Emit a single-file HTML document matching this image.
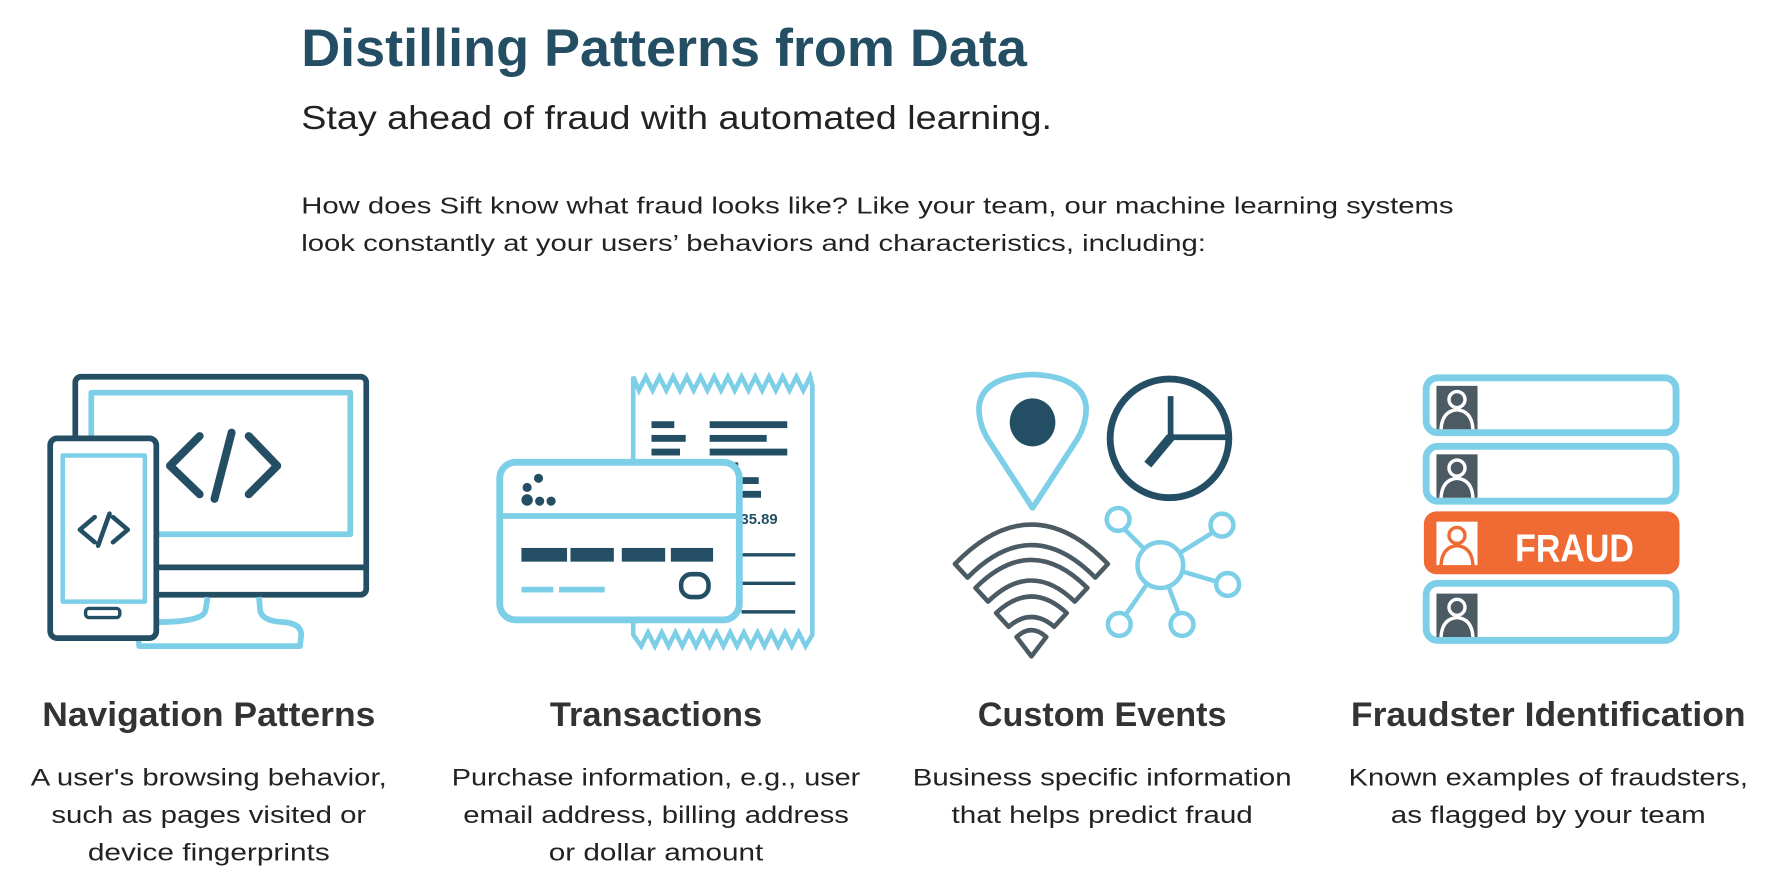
<!DOCTYPE html>
<html><head><meta charset="utf-8"><style>
html,body{margin:0;padding:0;background:#fff;width:1789px;height:879px;overflow:hidden}
svg{display:block}
text{font-family:"Liberation Sans",sans-serif}
</style></head><body>
<svg width="1789" height="879" viewBox="0 0 1568 770" preserveAspectRatio="none" xmlns="http://www.w3.org/2000/svg">
<text x="264" y="58" font-size="46" font-weight="bold" fill="#234e63" textLength="636" lengthAdjust="spacingAndGlyphs">Distilling Patterns from Data</text>
<text x="264" y="113" font-size="29" fill="#222" textLength="658" lengthAdjust="spacingAndGlyphs">Stay ahead of fraud with automated learning.</text>
<text x="264" y="187" font-size="20" fill="#222" textLength="1010" lengthAdjust="spacingAndGlyphs">How does Sift know what fraud looks like? Like your team, our machine learning systems</text>
<text x="264" y="220" font-size="20" fill="#222" textLength="793" lengthAdjust="spacingAndGlyphs">look constantly at your users’ behaviors and characteristics, including:</text>

<!-- Monitor -->
<g fill="none" stroke-linejoin="round">
<rect x="66" y="330" width="255" height="191" rx="5" stroke="#234e63" stroke-width="5"/>
<rect x="80" y="344" width="227" height="124" stroke="#7dcfe8" stroke-width="5"/>
<line x1="137" y1="497" x2="321" y2="497" stroke="#234e63" stroke-width="5"/>
<path d="M182 523 L180 535 Q178 545 135 545 Q121 546 121 556 L122 566 L263 566 L264 556 Q264 546 248 545 Q230 544 228 535 L227 523" stroke="#7dcfe8" stroke-width="5"/>
<rect x="44" y="384" width="93" height="175" rx="6" fill="#fff" stroke="#234e63" stroke-width="5"/>
<rect x="55" y="399" width="72" height="128" stroke="#7dcfe8" stroke-width="4"/>
<rect x="75" y="533" width="30" height="8" rx="3" stroke="#234e63" stroke-width="3"/>
<path d="M175 382 L149 408 L175 433 M218 382 L243 408 L218 433 M203 379 L188 437" stroke="#234e63" stroke-width="7" stroke-linecap="round"/>
<path d="M83 453 L70 464 L83 475 M99 453 L112 464 L99 475 M96 450 L86 478" stroke="#234e63" stroke-width="4" stroke-linecap="round"/>
</g>

<!-- Receipt -->
<g fill="none">
<path d="M555 330 L560 342 L566 330 L572 342 L578 330 L584 342 L590 330 L596 342 L602 330 L608 342 L614 330 L620 342 L626 330 L632 342 L638 330 L644 342 L650 330 L656 342 L662 330 L668 342 L674 330 L680 342 L686 330 L692 342 L698 330 L704 342 L710 330 L712 338 L712 556 L706 566 L700 554 L694 566 L688 554 L682 566 L676 554 L670 566 L664 554 L658 566 L652 554 L646 566 L640 554 L634 566 L628 554 L622 566 L616 554 L610 566 L604 554 L598 566 L592 554 L586 566 L580 554 L574 566 L568 554 L562 566 L555 556 Z" stroke="#7dcfe8" stroke-width="4"/>
<g fill="#234e63">
<rect x="571" y="369" width="20" height="6"/><rect x="571" y="381" width="30" height="6"/><rect x="571" y="393" width="25" height="6"/><rect x="571" y="405" width="20" height="6"/>
<rect x="622" y="369" width="68" height="6"/><rect x="622" y="381" width="50" height="6"/><rect x="622" y="393" width="68" height="6"/><rect x="622" y="405" width="25" height="6"/>
<rect x="645" y="418" width="20" height="6"/><rect x="645" y="430" width="22" height="6"/>
</g>
<text x="649" y="459" font-size="13" font-weight="bold" fill="#234e63">35.89</text>
<line x1="650" y1="486" x2="697" y2="486" stroke="#234e63" stroke-width="3"/>
<line x1="650" y1="511" x2="697" y2="511" stroke="#234e63" stroke-width="3"/>
<line x1="650" y1="536" x2="697" y2="536" stroke="#234e63" stroke-width="3"/>
<rect x="438" y="405" width="210" height="138" rx="14" fill="#fff" stroke="#7dcfe8" stroke-width="6"/>
<line x1="438" y1="452" x2="648" y2="452" stroke="#7dcfe8" stroke-width="5"/>
<g fill="#234e63"><circle cx="472" cy="419" r="4"/><circle cx="462" cy="427" r="4"/><circle cx="462" cy="438" r="5"/><circle cx="473" cy="439" r="4"/><circle cx="483" cy="439" r="4"/>
<rect x="457" y="480" width="40" height="12"/><rect x="500" y="480" width="38" height="12"/><rect x="545" y="480" width="38" height="12"/><rect x="588" y="480" width="37" height="12"/></g>
<rect x="457" y="514" width="28" height="5" fill="#7dcfe8"/><rect x="490" y="514" width="40" height="5" fill="#7dcfe8"/>
<rect x="597" y="503" width="24" height="20" rx="9" stroke="#234e63" stroke-width="4"/>
</g>

<!-- Custom events -->
<g fill="none">
<path d="M905 445 L866 385 Q858 372 858 357 Q860 330 905 328 Q950 330 952 357 Q952 372 944 385 Z" stroke="#7dcfe8" stroke-width="5" stroke-linejoin="round"/>
<ellipse cx="905" cy="370" rx="20" ry="21" fill="#234e63"/>
<circle cx="1025" cy="384" r="52" stroke="#234e63" stroke-width="6"/>
<path d="M1026 347 L1026 383 L1075 383" stroke="#234e63" stroke-width="5"/>
<path d="M1026 383 L1006 407" stroke="#234e63" stroke-width="8"/>
<g stroke="#4b5a63" stroke-width="4" stroke-linejoin="round">
<path d="M837 494 Q904 425 971 494 L960 506 Q904 449 848 506 Z"/>
<path d="M855 515 Q904 466 953 515 L942 527 Q904 490 866 527 Z"/>
<path d="M873 537 Q904 508 935 537 L924 549 Q904 532 884 549 Z"/>
<path d="M891 558 Q904 546 917 558 L904 575 Z"/>
</g>
<g stroke="#7dcfe8" stroke-width="4">
<line x1="1017" y1="495" x2="982" y2="460"/><line x1="1017" y1="495" x2="1070" y2="462"/><line x1="1017" y1="495" x2="1075" y2="512"/><line x1="1017" y1="495" x2="982" y2="545"/><line x1="1017" y1="495" x2="1036" y2="545"/>
<circle cx="1017" cy="495" r="20" fill="#fff"/>
<circle cx="980" cy="455" r="10" fill="#fff"/><circle cx="1071" cy="460" r="10" fill="#fff"/><circle cx="1076" cy="512" r="10" fill="#fff"/><circle cx="981" cy="547" r="10" fill="#fff"/><circle cx="1036" cy="547" r="10" fill="#fff"/>
</g>
</g>

<!-- Fraudster -->
<g>
<rect x="1250" y="331" width="219" height="48" rx="10" fill="#fff" stroke="#7dcfe8" stroke-width="6"/>
<rect x="1250" y="391" width="219" height="48" rx="10" fill="#fff" stroke="#7dcfe8" stroke-width="6"/>
<rect x="1248" y="448" width="224" height="55" rx="11" fill="#ef6b33"/>
<rect x="1250" y="511" width="219" height="50" rx="10" fill="#fff" stroke="#7dcfe8" stroke-width="6"/>
<g id="p"><rect x="1259" y="338" width="36" height="38" fill="#4b5a63"/><circle cx="1277" cy="350" r="7" fill="none" stroke="#fff" stroke-width="3"/><path d="M1263 376 Q1264 360 1277 359 Q1290 360 1291 376" fill="none" stroke="#fff" stroke-width="3"/></g>
<use href="#p" y="60"/><use href="#p" y="182"/>
<rect x="1259" y="457" width="36" height="38" fill="#fff"/><circle cx="1277" cy="469" r="7" fill="none" stroke="#ef6b33" stroke-width="3"/><path d="M1263 495 Q1264 479 1277 478 Q1290 479 1291 495" fill="none" stroke="#ef6b33" stroke-width="3"/>
<text x="1328" y="492" font-size="34" font-weight="bold" fill="#fff" textLength="104" lengthAdjust="spacingAndGlyphs">FRAUD</text>
</g>

<g font-weight="bold" fill="#333" font-size="30" text-anchor="middle">
<text x="183" y="636" textLength="292" lengthAdjust="spacingAndGlyphs">Navigation Patterns</text>
<text x="575" y="636" textLength="186" lengthAdjust="spacingAndGlyphs">Transactions</text>
<text x="966" y="636" textLength="218" lengthAdjust="spacingAndGlyphs">Custom Events</text>
<text x="1357" y="636" textLength="346" lengthAdjust="spacingAndGlyphs">Fraudster Identification</text>
</g>
<g fill="#222" font-size="21" text-anchor="middle">
<text x="183" y="688" textLength="312" lengthAdjust="spacingAndGlyphs">A user's browsing behavior,</text>
<text x="183" y="721" textLength="276" lengthAdjust="spacingAndGlyphs">such as pages visited or</text>
<text x="183" y="754" textLength="212" lengthAdjust="spacingAndGlyphs">device fingerprints</text>
<text x="575" y="688" textLength="358" lengthAdjust="spacingAndGlyphs">Purchase information, e.g., user</text>
<text x="575" y="721" textLength="338" lengthAdjust="spacingAndGlyphs">email address, billing address</text>
<text x="575" y="754" textLength="188" lengthAdjust="spacingAndGlyphs">or dollar amount</text>
<text x="966" y="688" textLength="332" lengthAdjust="spacingAndGlyphs">Business specific information</text>
<text x="966" y="721" textLength="264" lengthAdjust="spacingAndGlyphs">that helps predict fraud</text>
<text x="1357" y="688" textLength="350" lengthAdjust="spacingAndGlyphs">Known examples of fraudsters,</text>
<text x="1357" y="721" textLength="276" lengthAdjust="spacingAndGlyphs">as flagged by your team</text>
</g>
</svg>
</body></html>
